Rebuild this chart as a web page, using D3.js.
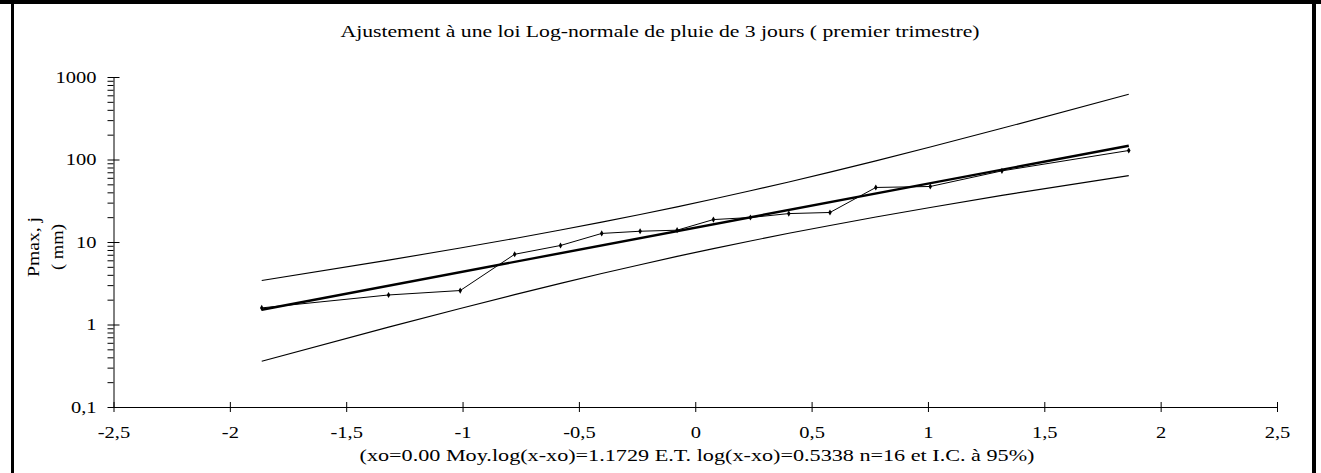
<!DOCTYPE html>
<html>
<head>
<meta charset="utf-8">
<script src="https://cdn.jsdelivr.net/npm/d3@7"></script>
<style>
  body { margin: 0; background: #fff; }
  text { font-family: "Liberation Serif", "Times New Roman", serif; fill: #000; }
</style>
</head>
<body>
<div id="chart"></div>
<script>
// normal quantiles of the 16 ranked values
var zVals = [-1.863, -1.318, -1.010, -0.776, -0.579, -0.402, -0.237, -0.078,
             0.078, 0.237, 0.402, 0.579, 0.776, 1.010, 1.318, 1.863];
// observed 3-day rain (mm)
var obsVals = [1.59, 2.28, 2.58, 7.1, 9.07, 12.7, 13.5, 13.9,
               18.7, 19.8, 22.1, 22.8, 45.8, 47.1, 72.8, 128.5];
// 95% confidence band
var upperVals = [3.42, 6.03, 8.45, 11.05, 13.97, 17.41, 21.54, 26.68,
                 33.15, 41.74, 53.44, 70.31, 96.3, 141.6, 238.6, 618];
var lowerVals = [0.358, 0.929, 1.566, 2.302, 3.154, 4.148, 5.312, 6.689,
                 8.312, 10.29, 12.74, 15.87, 20.07, 26.23, 36.78, 63.8];
// fitted log-normal line (ends)
var fitX = [-1.863, 1.863];
var fitY = [1.51, 147];

var xTicks = [-2.5, -2, -1.5, -1, -0.5, 0, 0.5, 1, 1.5, 2, 2.5];
var yTicks = [0.1, 1, 10, 100, 1000];
var yTickLabels = ["0,1", "1", "10", "100", "1000"];

var titleText = "Ajustement \u00e0 une loi Log-normale de pluie de 3 jours ( premier trimestre)";
var footText = "(xo=0.00 Moy.log(x-xo)=1.1729 E.T. log(x-xo)=0.5338 n=16 et I.C. \u00e0 95%)";

var W = 1321, H = 473;
var SX = 1.28; // text is stretched horizontally in the original

var svg = d3.select("#chart").append("svg")
	.attr("width", W)
	.attr("height", H);

// frame
svg.append("rect").attr("x", 0).attr("y", 0).attr("width", W).attr("height", 4).attr("fill", "#000");
svg.append("rect").attr("x", 11).attr("y", 0).attr("width", 3).attr("height", H).attr("fill", "#000");
svg.append("rect").attr("x", 1312).attr("y", 0).attr("width", 4).attr("height", H).attr("fill", "#000");

var x = d3.scaleLinear().domain([-2.5, 2.5]).range([113.5, 1277]);
var y = d3.scaleLog().domain([0.1, 1000]).range([407, 77]);

// stretch a text along its baseline
function stretch(sel) {
	sel.each(function(){
		var w = this.getComputedTextLength();
		d3.select(this)
			.attr("textLength", w * SX)
			.attr("lengthAdjust", "spacingAndGlyphs");
	});
}

// minor log ticks
var minor = [];
[0.1, 1, 10, 100].forEach(function(d){
	for (var k = 2; k <= 9; k++) minor.push(d * k);
});

svg.append("g")
	.attr("transform", "translate(" + x(-2.5) + ",0)")
	.call(d3.axisLeft(y).tickValues(minor).tickFormat("").tickSize(6).tickSizeOuter(0))
	.call(function(g){ g.select(".domain").remove(); })
	.selectAll("line").attr("stroke", "#000");

var yAxis = svg.append("g")
	.attr("transform", "translate(" + x(-2.5) + ",0)")
	.call(d3.axisLeft(y).tickValues(yTicks)
		.tickFormat(function(d, i){ return yTickLabels[i]; })
		.tickSize(6).tickSizeOuter(0));
yAxis.attr("font-family", null).attr("font-size", null);
yAxis.selectAll(".tick line").attr("x2", 6).attr("x1", -6);
yAxis.selectAll(".tick text")
	.attr("x", -17)
	.attr("dy", "0.34em")
	.style("font-size", "16px")
	.call(stretch);
yAxis.selectAll("path, line").attr("stroke", "#000");

var xAxis = svg.append("g")
	.attr("transform", "translate(0," + y(0.1) + ")")
	.call(d3.axisBottom(x).tickValues(xTicks)
		.tickFormat(function(d){ return String(d).replace(".", ","); })
		.tickSize(5).tickSizeOuter(0));
xAxis.attr("font-family", null).attr("font-size", null);
xAxis.selectAll(".tick line").attr("y1", -5).attr("y2", 5);
xAxis.selectAll(".tick text")
	.attr("y", 31)
	.attr("dy", 0)
	.style("font-size", "16px")
	.call(stretch);
xAxis.selectAll("path, line").attr("stroke", "#000");

var line = d3.line()
	.x(function(d){ return x(d[0]); })
	.y(function(d){ return y(d[1]); });

function pairs(xs, ys) {
	return xs.map(function(d, i){ return [d, ys[i]]; });
}

svg.append("path")
	.attr("d", line(pairs(zVals, upperVals)))
	.attr("fill", "none").attr("stroke", "#000").attr("stroke-width", 1.1);
svg.append("path")
	.attr("d", line(pairs(zVals, lowerVals)))
	.attr("fill", "none").attr("stroke", "#000").attr("stroke-width", 1.1);

svg.append("path")
	.attr("d", line(pairs(zVals, obsVals)))
	.attr("fill", "none").attr("stroke", "#000").attr("stroke-width", 1);

svg.append("path")
	.attr("d", line(pairs(fitX, fitY)))
	.attr("fill", "none").attr("stroke", "#000").attr("stroke-width", 2.4);

svg.selectAll("path.pt")
	.data(pairs(zVals, obsVals))
	.enter().append("path")
	.attr("class", "pt")
	.attr("d", d3.symbol(d3.symbolDiamond, 11))
	.attr("transform", function(d){ return "translate(" + x(d[0]) + "," + y(d[1]) + ")"; })
	.attr("fill", "#000");

// title
svg.append("text")
	.attr("x", 660).attr("y", 37)
	.attr("text-anchor", "middle")
	.style("font-size", "16px")
	.attr("textLength", 639)
	.attr("lengthAdjust", "spacingAndGlyphs")
	.text(titleText);

// foot note
svg.append("text")
	.attr("x", 697).attr("y", 461)
	.attr("text-anchor", "middle")
	.style("font-size", "16px")
	.attr("textLength", 675)
	.attr("lengthAdjust", "spacingAndGlyphs")
	.text(footText);

// y axis label, two lines
svg.append("text")
	.attr("transform", "translate(39,247) rotate(-90)")
	.attr("text-anchor", "middle")
	.style("font-size", "16px")
	.attr("textLength", 60)
	.attr("lengthAdjust", "spacingAndGlyphs")
	.text("Pmax, j");
svg.append("text")
	.attr("transform", "translate(63,247) rotate(-90)")
	.attr("text-anchor", "middle")
	.style("font-size", "16px")
	.attr("textLength", 46)
	.attr("lengthAdjust", "spacingAndGlyphs")
	.text("( mm)");
</script>
</body>
</html>
